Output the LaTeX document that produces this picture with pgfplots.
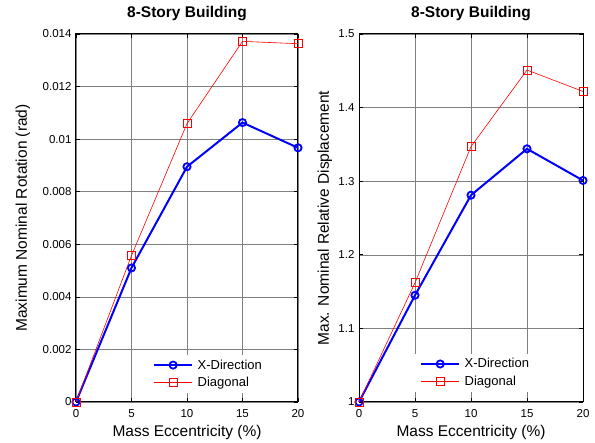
\documentclass[border=0pt]{standalone}
\usepackage{pgfplots}
\pgfplotsset{compat=1.18}
\usepackage{fontspec}
\setmainfont{Liberation Sans}
\definecolor{mblue}{RGB}{0,0,255}
\definecolor{mred}{RGB}{255,0,0}
\pgfplotsset{
  mstyle/.style={
    scale only axis,
    height=368pt,
    xmin=0, xmax=20,
    xtick={0,5,10,15,20},
    scaled y ticks=false,
    grid=major,
    major grid style={black!50, line width=0.5pt},
    tick align=inside,
    xtick pos=both, ytick pos=both,
    major tick length=4pt,
    tick style={black, line width=0.6pt},
    axis line style={black, line width=1pt},
    clip=false,
    /pgf/number format/assume math mode=true,
    ticklabel style={font=\fontsize{11.5}{13}\selectfont},
    xticklabel style={anchor=base, yshift=-15.5pt},
    yticklabel style={xshift=-1pt},
    label style={font=\fontsize{15.5}{17}\selectfont},
    title style={font=\fontsize{15.5}{17}\selectfont\bfseries, at={(axis description cs:0.5,1)}, anchor=base, yshift=10.5pt},
    xlabel style={at={(axis description cs:0.5,0)}, anchor=base, yshift=-35pt},
    legend cell align=left,
    legend style={draw=none, fill=white, font=\fontsize{13}{15}\selectfont,
      inner xsep=5pt, inner ysep=3pt, row sep=2.5pt,
      nodes={inner xsep=4.5pt, inner ysep=2pt}},
    legend image code/.code={\draw[mark repeat=2,mark phase=2,##1] plot coordinates {(0pt,0pt) (19pt,0pt) (38pt,0pt)};},
    xlabel={Mass Eccentricity (\%)},
    title={8-Story Building},
  },
  xser/.style={color=mblue, line width=2pt, mark=o, mark size=3.6pt, mark options={line width=1.8pt}},
  dser/.style={color=mred, line width=0.6pt, mark=square, mark size=4pt, mark options={line width=0.7pt}},
}
\begin{document}
\begin{tikzpicture}[x=1pt,y=1pt]
\useasboundingbox (0,0) rectangle (595,443);
\begin{axis}[mstyle,
  at={(76pt,41pt)}, anchor=south west,
  width=222pt,
  ymin=0, ymax=0.014,
  ytick={0,0.002,0.004,0.006,0.008,0.01,0.012,0.014},
  yticklabels={0,0.002,0.004,0.006,0.008,0.01,0.012,0.014},
  ylabel={Maximum Nominal Rotation (rad)},
  ylabel style={at={(axis description cs:-0.239,0.5)}, anchor=center},
  legend style={at={(axis description cs:0.324,0.024)}, anchor=south west},
]
\addplot[xser] coordinates {(0,0) (5,0.0051) (10,0.00895) (15,0.01063) (20,0.00967)};
\addlegendentry{X-Direction}
\addplot[dser] coordinates {(0,0) (5,0.00557) (10,0.01059) (15,0.01372) (20,0.01363)};
\addlegendentry{Diagonal}
\end{axis}
\begin{axis}[mstyle,
  at={(359pt,41pt)}, anchor=south west,
  width=224pt,
  ymin=1, ymax=1.5,
  ytick={1,1.1,1.2,1.3,1.4,1.5},
  yticklabels={1,1.1,1.2,1.3,1.4,1.5},
  ylabel={Max. Nominal Relative Displacement},
  ylabel style={at={(axis description cs:-0.152,0.5)}, anchor=center},
  legend style={at={(axis description cs:0.25,0.027)}, anchor=south west},
]
\addplot[xser] coordinates {(0,1) (5,1.145) (10,1.281) (15,1.344) (20,1.301)};
\addlegendentry{X-Direction}
\addplot[dser] coordinates {(0,1) (5,1.162) (10,1.347) (15,1.451) (20,1.422)};
\addlegendentry{Diagonal}
\end{axis}
\end{tikzpicture}
\end{document}
